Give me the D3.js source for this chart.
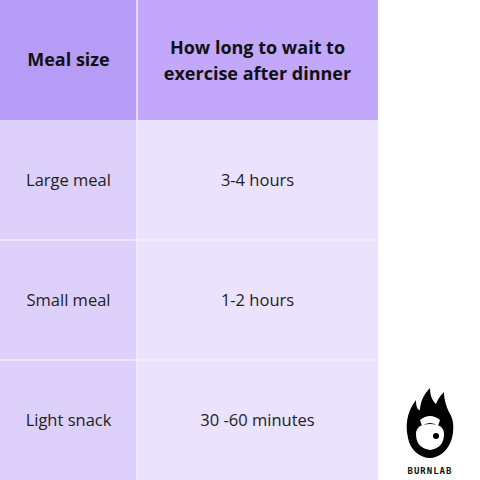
<!DOCTYPE html>
<html><head><meta charset="utf-8">
<script src="https://cdn.jsdelivr.net/npm/d3@7"></script>
<style>body{margin:0;background:#fff}</style>
</head><body><svg id="c" width="480" height="480"></svg>
<script>
const headers = ["Meal size", "How long to wait to|exercise after dinner"];
const mealSizes = ["Large meal", "Small meal", "Light snack"];
const waitTimes = ["3-4 hours", "1-2 hours", "30 -60 minutes"];

const svg = d3.select("#c");
const x = d3.scaleOrdinal().domain([0, 1]).range([0, 137]);
const colW = [137, 241];
const y = d3.scaleBand().domain(d3.range(4)).range([0, 480]);
const fills = [["#b79cf7", "#c2a7fa"], ["#ddd0fb", "#ebe2fd"]];

d3.range(4).forEach(r => {
  [0, 1].forEach(c => {
    svg.append("rect").attr("x", x(c)).attr("y", y(r))
      .attr("width", colW[c]).attr("height", y.bandwidth())
      .attr("fill", fills[r === 0 ? 0 : 1][c]);
  });
});
// grid lines
svg.append("line").attr("x1", 137).attr("x2", 137).attr("y1", 0).attr("y2", 480)
  .attr("stroke", "#f3eefe").attr("stroke-width", 1.5);
[2, 3].forEach(r => svg.append("line").attr("x1", 0).attr("x2", 378)
  .attr("y1", y(r)).attr("y2", y(r)).attr("stroke", "#f3eefe").attr("stroke-width", 1.5));

const font = "'Open Sans', sans-serif";
headers.forEach((h, c) => {
  const lines = h.split("|");
  const t = svg.append("text").attr("x", x(c) + colW[c] / 2).attr("y", 60)
    .attr("text-anchor", "middle").attr("font-family", font)
    .attr("font-weight", 700).attr("font-size", 18).attr("fill", "#111");
  lines.forEach((l, i) => t.append("tspan").attr("x", x(c) + colW[c] / 2)
    .attr("dy", i === 0 ? (lines.length === 1 ? 6 : -6) : 26).text(l));
});
mealSizes.forEach((m, i) => {
  [m, waitTimes[i]].forEach((v, c) => {
    svg.append("text").attr("x", x(c) + colW[c] / 2).attr("y", y(i + 1) + y.bandwidth() / 2 + 6)
      .attr("text-anchor", "middle").attr("font-family", font)
      .attr("font-size", 16.5).attr("fill", "#222").text(v);
  });
});

// logo
const g = svg.append("g").attr("transform", "translate(430,430)");
g.append("path").attr("d", "M-22,8 C-26,-10 -20,-22 -14,-30 C-14,-22 -12,-20 -10,-20 C-10,-30 -4,-38 0,-42 C0,-32 4,-28 6,-26 C8,-32 12,-36 14,-38 C14,-28 18,-20 20,-16 C24,-10 24,0 22,8 C18,22 8,28 0,28 C-10,28 -20,20 -22,8Z").attr("fill", "#000");
g.append("path").attr("d", "M-10,-10 Q0,-18 10,-10 L8,-4 Q0,-10 -8,-4Z").attr("fill", "#fff");
g.append("path").attr("d", "M-14,4 Q-14,-6 0,-6 Q14,-6 14,4 Q14,18 0,20 Q-14,18 -14,4Z").attr("fill", "#fff");
g.append("circle").attr("cx", 6).attr("cy", 6).attr("r", 3).attr("fill", "#000");
g.append("text").attr("x", 0).attr("y", 44).attr("text-anchor", "middle")
  .attr("font-family", "'DejaVu Sans Mono', monospace").attr("font-weight", 700)
  .attr("font-size", 9).attr("letter-spacing", 1).attr("fill", "#111").text("BURNLAB");
</script></body></html>
